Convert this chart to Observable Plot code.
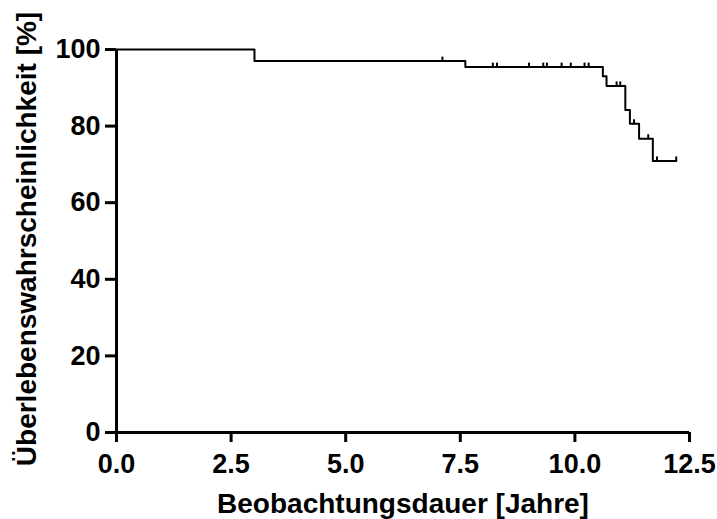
<!DOCTYPE html>
<html>
<head>
<meta charset="utf-8">
<script src="https://cdn.jsdelivr.net/npm/d3@7"></script>
<script src="https://cdn.jsdelivr.net/npm/@observablehq/plot@0.6"></script>
<style>
  html, body { margin: 0; padding: 0; background: #fff; }
  #chart { width: 717px; height: 519px; }
</style>
</head>
<body>
<div id="chart"></div>
<script>
// Kaplan-Meier step curve (time in years, survival in %)
const stepTimes = [0, 3.01, 7.61, 10.61, 10.69, 11.10, 11.20, 11.40, 11.70, 12.21];
const stepSurv  = [100, 96.97, 95.4, 93.0, 90.5, 84.2, 80.6, 76.7, 70.9, 70.9];

// Censored observations
const censorTimes = [7.11, 8.21, 8.30, 9.00, 9.31, 9.39, 9.71, 9.91, 10.21, 10.30, 10.91, 10.99, 11.29, 11.60, 11.79, 12.21];
const censorSurv  = [96.97, 95.4, 95.4, 95.4, 95.4, 95.4, 95.4, 95.4, 95.4, 95.4, 90.5, 90.5, 80.6, 76.7, 70.9, 70.9];

const xTicks = [0, 2.5, 5, 7.5, 10, 12.5];
const yTicks = [0, 20, 40, 60, 80, 100];
const xLabel = "Beobachtungsdauer [Jahre]";
const yLabel = "Überlebenswahrscheinlichkeit [%]";

const curve = stepTimes.map((t, i) => ({t, s: stepSurv[i]}));
const censored = censorTimes.map((t, i) => ({t, s: censorSurv[i]}));

const censorSymbol = {
  draw(context) {
    context.moveTo(0, -4.5);
    context.lineTo(0, 0.5);
  }
};

const font = "'Liberation Sans', Arial, Helvetica, sans-serif";

const chart = Plot.plot({
  width: 717,
  height: 519,
  marginLeft: 116,
  marginRight: 28,
  marginTop: 49,
  marginBottom: 87,
  style: {fontFamily: font, fontSize: "27px", fontWeight: "bold", color: "#000", background: "#fff", overflow: "visible"},
  x: {domain: [0, 12.5]},
  y: {domain: [0, 100]},
  marks: [
    Plot.axisX({ticks: xTicks, tickFormat: d3.format(".1f"), tickSize: 10, tickPadding: 11,
                strokeWidth: 3, fontSize: 27, fontWeight: "bold", label: null}),
    Plot.axisY({ticks: yTicks, tickFormat: d3.format("d"), tickSize: 11, tickPadding: 5,
                strokeWidth: 3, fontSize: 27, fontWeight: "bold", label: null}),
    Plot.line(curve, {x: "t", y: "s", curve: "step-after", stroke: "#000", strokeWidth: 2}),
    Plot.dot(censored, {x: "t", y: "s", symbol: censorSymbol, stroke: "#000", strokeWidth: 2, fill: "none"}),
    Plot.ruleY([0], {stroke: "#000", strokeWidth: 3}),
    Plot.ruleX([0], {stroke: "#000", strokeWidth: 3}),
    Plot.text([xLabel], {frameAnchor: "bottom", textAnchor: "middle", dy: 80, fontSize: 28, fontWeight: "bold", fill: "#000", text: d => d}),
    Plot.text([yLabel], {frameAnchor: "left", textAnchor: "middle", dx: -89, dy: -2, rotate: -90, fontSize: 28, fontWeight: "bold", fill: "#000", text: d => d})
  ]
});
document.getElementById("chart").appendChild(chart);
</script>
</body>
</html>
